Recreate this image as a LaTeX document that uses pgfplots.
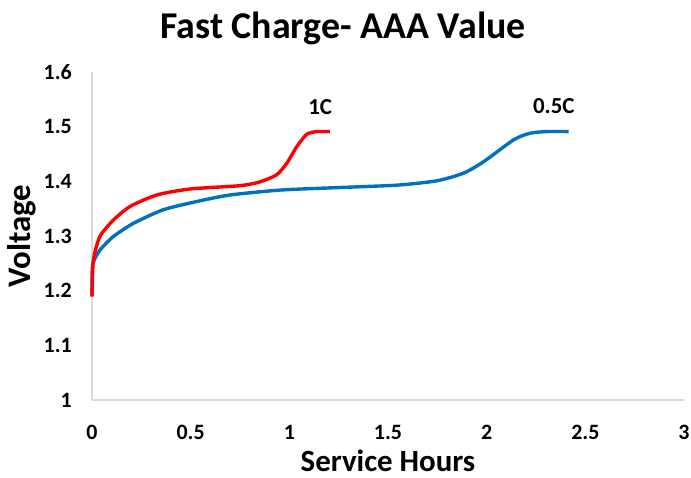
\documentclass[border=0pt]{standalone}
\usepackage{fontspec}
\setmainfont{Carlito}
\usepackage{pgfplots}
\pgfplotsset{compat=1.18}
\definecolor{xlblue}{HTML}{0070C0}
\definecolor{xlred}{HTML}{FF0000}
\definecolor{axgray}{HTML}{D9D9D9}
\begin{document}
\begin{tikzpicture}[x=1bp,y=1bp]
\begin{axis}[
  at={(92bp,78bp)}, anchor=south west,
  scale only axis, width=592bp, height=328bp,
  xmin=0, xmax=3, ymin=1, ymax=1.6,
  xtick={0,0.5,...,3}, ytick={1,1.1,...,1.6},
  axis x line*=bottom, axis y line*=left,
  axis line style={axgray, line width=1.2bp, -},
  tick style={draw=none},
  /pgf/number format/assume math mode=true,
  /pgf/number format/fixed,
  ticklabel style={font=\fontsize{22}{25}\selectfont\bfseries, inner sep=0pt},
  xticklabel style={yshift=-25bp},
  yticklabel style={xshift=-20bp},
  clip=false,
]
\addplot[xlblue, line width=3.4bp, smooth, tension=0.4] coordinates {
(0,1.190) (0.003,1.247) (0.04,1.274) (0.108,1.299) (0.209,1.323) (0.361,1.348)
(0.53,1.363) (0.699,1.375) (0.953,1.384) (1.206,1.388) (1.545,1.393) (1.748,1.401)
(1.883,1.415) (1.985,1.436) (2.137,1.476) (2.22,1.488) (2.305,1.491) (2.415,1.491)};
\addplot[xlred, line width=3.4bp, smooth, tension=0.4] coordinates {
(0,1.189) (0.007,1.256) (0.04,1.299) (0.108,1.329) (0.193,1.354) (0.328,1.375)
(0.497,1.386) (0.75,1.392) (0.851,1.399) (0.936,1.412) (0.987,1.433) (1.037,1.463)
(1.088,1.486) (1.139,1.491) (1.206,1.491)};
\node[font=\fontsize{23}{26}\selectfont\bfseries] at (axis cs:1.156,1.536) {1C};
\node[font=\fontsize{23}{26}\selectfont\bfseries] at (axis cs:2.34,1.538) {0.5C};
\node[font=\fontsize{38}{42}\selectfont\bfseries] at (rel axis cs:0.424,1.134) {Fast Charge- AAA Value};
\node[font=\fontsize{33}{38}\selectfont\bfseries, rotate=90] at (rel axis cs:-0.118,0.5) {Voltage};
\node[font=\fontsize{31}{36}\selectfont\bfseries, inner sep=0pt, anchor=base] at (rel axis cs:0.5,-0.2165) {Service Hours};
\end{axis}
\pgfresetboundingbox
\path[use as bounding box] (0,0) rectangle (691,478);
\end{tikzpicture}
\end{document}
